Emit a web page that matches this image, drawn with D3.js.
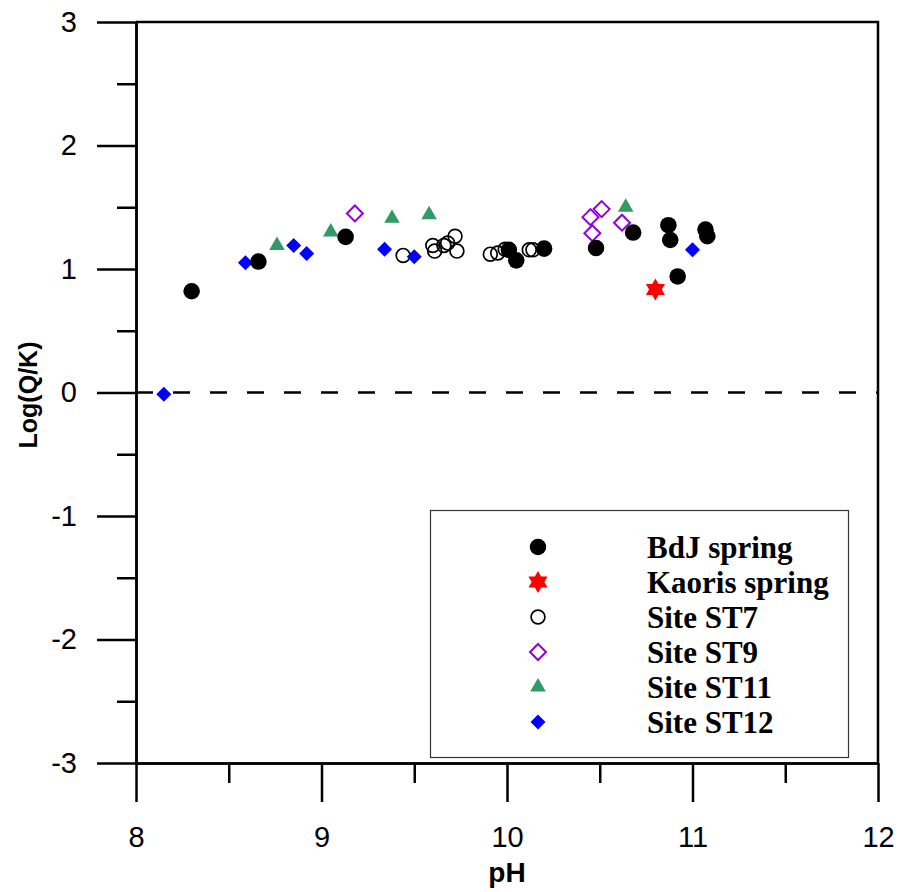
<!DOCTYPE html>
<html><head><meta charset="utf-8">
<script src="https://cdn.jsdelivr.net/npm/d3@7"></script>
<style>body{margin:0;background:#fff}</style>
</head><body><svg id="c" width="899" height="892"></svg>
<script>
// ---- data ----
const xMajorTicks = [8, 9, 10, 11, 12];
const xMinorTicks = [8.5, 9.5, 10.5, 11.5];
const yMajorTicks = [-3, -2, -1, 0, 1, 2, 3];
const yMinorTicks = [-2.5, -1.5, -0.5, 0.5, 1.5, 2.5];
const seriesNames = ["BdJ spring", "Kaoris spring", "Site ST7", "Site ST9", "Site ST11", "Site ST12"];

const bdjPH  = [8.30, 8.66, 9.13, 10.01, 10.05, 10.20, 10.48, 10.68, 10.87, 10.88, 10.92, 11.07, 11.08];
const bdjLog = [0.82, 1.06, 1.26, 1.155, 1.07, 1.165, 1.17, 1.295, 1.355, 1.235, 0.94, 1.32, 1.265];
const kaorisPH  = [10.80];
const kaorisLog = [0.835];
const st7PH  = [9.44, 9.60, 9.61, 9.66, 9.68, 9.72, 9.73, 9.91, 9.95, 9.99, 10.12, 10.14];
const st7Log = [1.11, 1.19, 1.145, 1.19, 1.21, 1.265, 1.145, 1.12, 1.13, 1.16, 1.155, 1.155];
const st9PH  = [9.18, 10.45, 10.46, 10.51, 10.62];
const st9Log = [1.45, 1.42, 1.29, 1.485, 1.375];
const st11PH  = [8.76, 9.05, 9.38, 9.58, 10.64];
const st11Log = [1.19, 1.30, 1.41, 1.44, 1.50];
const st12PH  = [8.15, 8.59, 8.85, 8.92, 9.34, 9.50, 11.00];
const st12Log = [-0.015, 1.05, 1.19, 1.125, 1.16, 1.10, 1.155];

// ---- layout ----
const L = 136, R = 878, T = 22, B = 763;
const svg = d3.select("#c");
const x = d3.scaleLinear().domain([8, 12]).range([L, R]);
const y = d3.scaleLinear().domain([-3, 3]).range([B, T]);
const sans = "'Liberation Sans', Arial, sans-serif";

// custom symbols
const diamondSym = { draw(ctx, size) { const r = Math.sqrt(size) / 2; ctx.moveTo(0, -r); ctx.lineTo(r, 0); ctx.lineTo(0, r); ctx.lineTo(-r, 0); ctx.closePath(); } };
const hexStar = { draw(ctx, size) { const ro = Math.sqrt(size) / 2, ri = ro / Math.sqrt(3);
  for (let i = 0; i < 12; i++) { const a = -Math.PI / 2 + i * Math.PI / 6; const r = i % 2 ? ri : ro;
    const px = r * Math.cos(a), py = r * Math.sin(a); if (i === 0) ctx.moveTo(px, py); else ctx.lineTo(px, py); }
  ctx.closePath(); } };

const styles = {
  "BdJ spring":    { type: d3.symbolCircle, size: 215, fill: "#000", stroke: "none", sw: 0 },
  "Kaoris spring": { type: hexStar, size: 484, fill: "#ff0000", stroke: "none", sw: 0 },
  "Site ST7":      { type: d3.symbolCircle, size: 150, fill: "none", stroke: "#000", sw: 1.7 },
  "Site ST9":      { type: diamondSym, size: 256, fill: "none", stroke: "#9400d3", sw: 2 },
  "Site ST11":     { type: d3.symbolTriangle, size: 105, fill: "#339966", stroke: "none", sw: 0 },
  "Site ST12":     { type: diamondSym, size: 225, fill: "#0000ff", stroke: "none", sw: 0 }
};
const seriesData = {
  "BdJ spring": [bdjPH, bdjLog], "Kaoris spring": [kaorisPH, kaorisLog], "Site ST7": [st7PH, st7Log],
  "Site ST9": [st9PH, st9Log], "Site ST11": [st11PH, st11Log], "Site ST12": [st12PH, st12Log]
};
const drawOrder = ["Site ST7", "Site ST9", "Site ST11", "Site ST12", "BdJ spring", "Kaoris spring"];

// dashed zero line
svg.append("line").attr("x1", x(8)).attr("x2", x(12)).attr("y1", y(0)).attr("y2", y(0))
  .attr("stroke", "#000").attr("stroke-width", 2.5).attr("stroke-dasharray", "17,20");

// axes
function styleAxis(g) {
  g.attr("font-size", 29).attr("font-family", sans);
  g.select(".domain").attr("stroke-width", 2.5); g.selectAll("line").attr("stroke-width", 2.5);
  g.selectAll("text").attr("fill", "#000");
}
const xAx = svg.append("g").attr("transform", `translate(0,${B})`)
  .call(d3.axisBottom(x).tickValues(xMajorTicks).tickSize(39).tickPadding(24).tickSizeOuter(0).tickFormat(d3.format("d")));
styleAxis(xAx);
const xAxMin = svg.append("g").attr("transform", `translate(0,${B})`)
  .call(d3.axisBottom(x).tickValues(xMinorTicks).tickSize(20).tickFormat("").tickSizeOuter(0));
styleAxis(xAxMin);
const yAx = svg.append("g").attr("transform", `translate(${L},0)`)
  .call(d3.axisLeft(y).tickValues(yMajorTicks).tickSize(39).tickPadding(20).tickSizeOuter(0).tickFormat(d => String(d)));
styleAxis(yAx);
const yAxMin = svg.append("g").attr("transform", `translate(${L},0)`)
  .call(d3.axisLeft(y).tickValues(yMinorTicks).tickSize(19).tickFormat("").tickSizeOuter(0));
styleAxis(yAxMin);
// frame top/right
svg.append("path").attr("d", `M${L},${T}H${R}V${B}`).attr("fill", "none").attr("stroke", "#000").attr("stroke-width", 2.5);

// axis titles
svg.append("text").attr("x", 507).attr("y", 882).attr("text-anchor", "middle")
  .attr("font-family", sans).attr("font-weight", "bold").attr("font-size", 28).text("pH");
svg.append("text").attr("transform", `translate(37,395) rotate(-90)`).attr("text-anchor", "middle")
  .attr("font-family", sans).attr("font-weight", "bold").attr("font-size", 25).text("Log(Q/K)");

// points
drawOrder.forEach(name => {
  const s = styles[name]; const [px, py] = seriesData[name];
  const sym = d3.symbol().type(s.type).size(s.size);
  svg.append("g").selectAll("path").data(px.map((v, i) => [v, py[i]])).join("path")
    .attr("d", sym).attr("transform", d => `translate(${x(d[0])},${y(d[1])})`)
    .attr("fill", s.fill).attr("stroke", s.stroke).attr("stroke-width", s.sw);
});

// legend
const lg = svg.append("g");
lg.append("rect").attr("x", 430.5).attr("y", 510.5).attr("width", 418).attr("height", 247)
  .attr("fill", "#fff").attr("stroke", "#333").attr("stroke-width", 1.2);
seriesNames.forEach((name, i) => {
  const cy = 547 + i * 35; const s = styles[name];
  lg.append("path").attr("d", d3.symbol().type(s.type).size(s.size)).attr("transform", `translate(538,${cy})`)
    .attr("fill", s.fill).attr("stroke", s.stroke).attr("stroke-width", s.sw);
  lg.append("text").attr("x", 647).attr("y", cy + 11).attr("font-family", "'Liberation Serif', 'Times New Roman', serif")
    .attr("font-weight", "bold").attr("font-size", 31).attr("fill", "#000").text(name);
});
</script></body></html>
